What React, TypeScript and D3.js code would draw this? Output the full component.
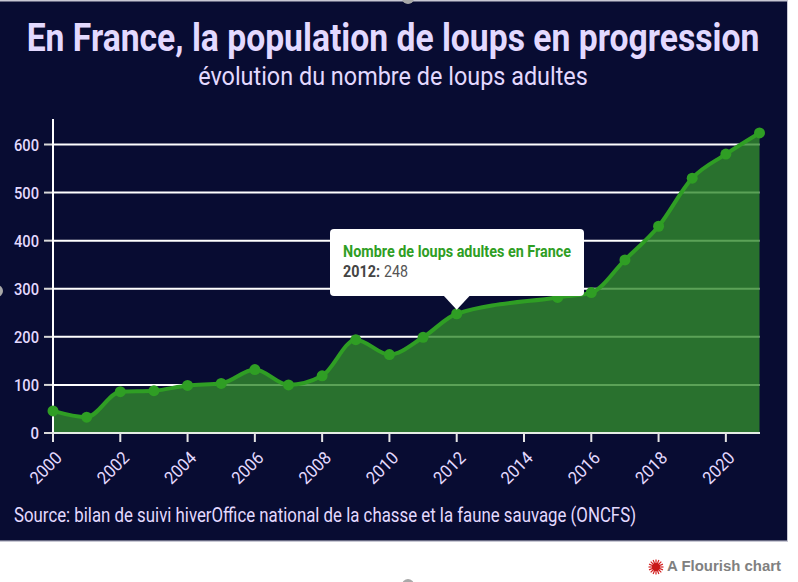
import React, { useLayoutEffect, useRef } from "react";
import * as d3 from "d3";

const years = [2000,2001,2002,2003,2004,2005,2006,2007,2008,2009,2010,2011,2012,2015,2016,2017,2018,2019,2020,2021];
const wolves = [46,33,86,88,99,103,132,100,119,194,163,199,248,282,292,360,430,530,580,624];
const yTicks = [0,100,200,300,400,500,600];
const xTicks = [2000,2002,2004,2006,2008,2010,2012,2014,2016,2018,2020];

const titleText = "En France, la population de loups en progression";
const subtitleText = "évolution du nombre de loups adultes";
const sourceText = "Source: bilan de suivi hiverOffice national de la chasse et la faune sauvage (ONCFS)";
const tooltipTitle = "Nombre de loups adultes en France";
const tooltipYear = 2012;
const tooltipValue = 248;

const NAVY = "#080c32";
const LILAC = "#e3d9ff";
const GREEN = "#2f9e24";
const FONT = "Roboto, sans-serif";

function FitText({ x, y, width, children, ...rest }: any) {
  const ref = useRef<SVGTextElement>(null);
  useLayoutEffect(() => {
    const el = ref.current;
    if (!el) return;
    el.removeAttribute("transform");
    const natural = el.getComputedTextLength();
    el.setAttribute("transform", `translate(${x},${y}) scale(${width / natural},1)`);
  }, [x, y, width]);
  return <text ref={ref} {...rest}>{children}</text>;
}

export default function App() {
  const x = d3.scaleLinear().domain([2000, 2021]).range([53, 759.5]);
  const y = d3.scaleLinear().domain([0, 600]).range([433, 144.5]);
  const pts = years.map((yr, i) => [yr, wolves[i]] as [number, number]);
  const line = d3.line<[number, number]>().x(d => x(d[0])).y(d => y(d[1])).curve(d3.curveMonotoneX);
  const area = d3.area<[number, number]>().x(d => x(d[0])).y0(y(0)).y1(d => y(d[1])).curve(d3.curveMonotoneX);
  const tx = x(tooltipYear);
  const ty = y(tooltipValue);
  return (
    <svg width={798} height={582} style={{ position: "absolute", left: 0, top: 0, background: "#fff", fontFamily: FONT }}>
      <rect x={0} y={0} width={788} height={542} fill="#c8c8d4" />
      <rect x={0} y={1.5} width={787} height={539} fill={NAVY} />
      <circle cx={408} cy={-2} r={6} fill="#a8a8a8" />
      <circle cx={-3} cy={291} r={6} fill="#a8a8a8" />
      <circle cx={408} cy={585} r={6} fill="#a8a8a8" />
      <FitText x={393} y={51} width={733} textAnchor="middle" fontSize={38} fontWeight={700} fill={LILAC}>{titleText}</FitText>
      <FitText x={393} y={85} width={390} textAnchor="middle" fontSize={25.5} fill={LILAC}>{subtitleText}</FitText>

      {yTicks.map(t => (
        <g key={t}>
          {t > 0 && <line x1={53} x2={759.5} y1={y(t)} y2={y(t)} stroke="#fff" strokeWidth={2} />}
          <line x1={44} x2={53} y1={y(t)} y2={y(t)} stroke="#d8d8d8" strokeWidth={2} />
          <text x={39} y={y(t) + 6} textAnchor="end" fontSize={17} fontWeight={500} fill={LILAC} textLength={t === 0 ? 8.5 : 25} lengthAdjust="spacingAndGlyphs">{t}</text>
        </g>
      ))}
      <path d={area(pts) ?? ""} fill="#328b2d" fillOpacity={0.8} />
      <line x1={53} x2={53} y1={119} y2={434} stroke="#fff" strokeWidth={2} />
      <line x1={52} x2={760} y1={433} y2={433} stroke="#e4ece4" strokeWidth={2} />
      {xTicks.map(t => (
        <g key={t}>
          <line x1={x(t)} x2={x(t)} y1={433} y2={442} stroke="#e4e4e4" strokeWidth={2} />
          <text transform={`translate(${x(t) + 1},${450}) rotate(-45)`} textAnchor="end" dominantBaseline="hanging" fontSize={17.5} fill={LILAC} textLength={37} lengthAdjust="spacingAndGlyphs">{t}</text>
        </g>
      ))}
      <path d={line(pts) ?? ""} fill="none" stroke={GREEN} strokeWidth={4} strokeLinejoin="round" />
      {pts.map(p => <circle key={p[0]} cx={x(p[0])} cy={y(p[1])} r={5.5} fill={GREEN} />)}

      <text x={14} y={522} fontSize={19.5} fill={LILAC} textLength={622} lengthAdjust="spacingAndGlyphs">{sourceText}</text>

      <path d={`M${tx - 13},${ty - 18} L${tx},${ty - 4} L${tx + 13},${ty - 18} Z`} fill="#fff" />
      <rect x={330} y={229} width={254} height={67} rx={4} fill="#fff" />
      <text x={343} y={257} fontSize={17} fontWeight={700} fill={GREEN} textLength={228} lengthAdjust="spacingAndGlyphs">{tooltipTitle}</text>
      <FitText x={343} y={277} width={37} fontSize={16} fontWeight={700} fill="#444">{`${tooltipYear}:`}</FitText>
      <FitText x={384} y={277} width={24} fontSize={16} fill="#555">{tooltipValue}</FitText>

      <g transform="translate(656,567)">
        {d3.range(16).map(i => {
          const a = (i / 16) * 2 * Math.PI;
          return <line key={i} x1={0} y1={0} x2={7.5 * Math.cos(a)} y2={7.5 * Math.sin(a)} stroke="#d42020" strokeWidth={1.2} />;
        })}
        <circle r={4} fill="#c81818" />
      </g>
      <text x={667} y={571} fontFamily="Liberation Sans, Arial, sans-serif" fontSize={14.5} fontWeight={700} fill="#808080" textLength={114} lengthAdjust="spacingAndGlyphs">A Flourish chart</text>
    </svg>
  );
}
